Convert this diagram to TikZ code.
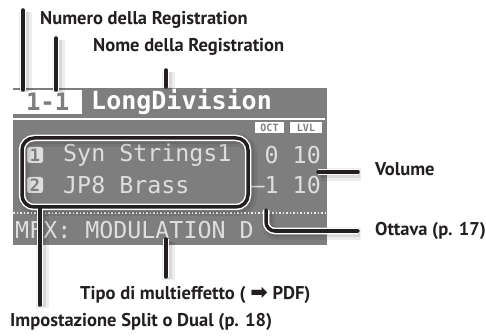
\documentclass[tikz,border=0pt]{standalone}
\usepackage{fontspec}
\setmainfont{PT Sans}
\newfontfamily\lcdfont{DejaVu Sans Mono}
\newfontfamily\symfont{DejaVu Sans}
\definecolor{lcdgray}{RGB}{126,126,126}
\definecolor{lcdtext}{RGB}{222,222,222}
\definecolor{ink}{RGB}{35,31,32}

\begin{document}
\begin{tikzpicture}[x=1pt,y=-1pt,
    lbl/.style={font=\bfseries\fontsize{18.5}{20}\selectfont, anchor=west, inner sep=0pt, text=ink},
    lcd/.style={font=\lcdfont\fontsize{23.3}{24}\selectfont, text=lcdtext, inner sep=0pt, anchor=west},
    tag/.style={fill=white, text=lcdgray, font=\lcdfont\bfseries\fontsize{10}{10}\selectfont, inner sep=0pt, minimum height=11pt},
    badge/.style={fill=lcdtext, text=lcdgray, rounded corners=2.5pt, minimum size=16pt, inner sep=0pt, font=\lcdfont\bfseries\fontsize{17}{17}\selectfont},
    callout/.style={draw=ink, line width=3.5pt, line cap=round, rounded corners=9pt,
        preaction={draw=black, opacity=0.07, line width=13pt, transform canvas={shift={(2.5pt,-2.5pt)}}},
        preaction={draw=black, opacity=0.09, line width=8pt, transform canvas={shift={(2pt,-2pt)}}},
        preaction={draw=white, line width=6.5pt}}]
    \useasboundingbox (0,0) rectangle (486,336);

    % display
    \fill[lcdgray] (13,88) rectangle (327,245);
    \node[fill=white, text=lcdgray, font=\lcdfont\bfseries\fontsize{24}{24}\selectfont, minimum width=69pt, minimum height=24pt, inner sep=0pt, anchor=north west] (num) at (13,90) {1-1};
    \node[lcd, font=\lcdfont\bfseries\fontsize{25}{26}\selectfont, text=white] (name) at (91,102) {LongDivision};
    \draw[white, line width=2pt] (13,119) -- (325,119);
    \node[tag, minimum width=29pt] (oct) at (269.5,128) {OCT};
    \node[tag, minimum width=32pt] (lvl) at (306,128) {LVL};
    \draw[white!85!gray, dotted, line width=1.5pt] (13,213) -- (327,213);

    \node[badge] (b1) at (35,155) {1};
    \node[badge] (b2) at (35,185) {2};
    \node[lcd] (p1) at (63,155) {Syn Strings1};
    \node[lcd] (p2) at (63,185) {JP8 Brass};
    \node[lcd, anchor=east] (v1) at (321,155) {0 10};
    \node[lcd, anchor=east] (v2) at (321,185) {–1 10};
    \node[lcd] (mfx) at (15,230) {MFX: MODULATION D};

    \node[callout, rounded corners=12pt, minimum width=226pt, minimum height=69pt] (parts) at (135,172.5) {};

    % labels
    \node[lbl] (numero) at (40,20) {Numero della Registration};
    \node[lbl] (nome) at (93,47) {Nome della Registration};
    \node[lbl] (volume) at (375,169) {Volume};
    \node[lbl] (ottava) at (375,231) {Ottava (p. 17)};
    \node[lbl] (tipo) at (80,295) {Tipo di multieffetto ( {\symfont\fontsize{21}{21}\selectfont ➡} PDF)};
    \node[lbl] (split) at (10,322) {Impostazione Split o Dual (p. 18)};

    % callouts
    \coordinate (n1) at (23,10);
    \coordinate (n2) at (56,38);
    \coordinate (r1) at (166,70);
    \coordinate (s1) at (40,305);
    \coordinate (t1) at (166,277);
    \coordinate (vo) at (358,172);
    \coordinate (o1) at (266,210);
    \coordinate (ot) at (358,231);

    \draw[callout] (n1) -- (n1 |- num.north);
    \draw[callout] (n2) -- (n2 |- num.north);
    \draw[callout] (r1) -- ([yshift=3pt]r1 |- num.north);
    \draw[callout] (s1 |- parts.south) -- (s1);
    \draw[callout] (t1 |- mfx.south) -- (t1);
    \draw[callout] ([xshift=-3pt]vo -| v1.east) -- (vo);
    \draw[callout] (o1) |- (ot);
\end{tikzpicture}
\end{document}
